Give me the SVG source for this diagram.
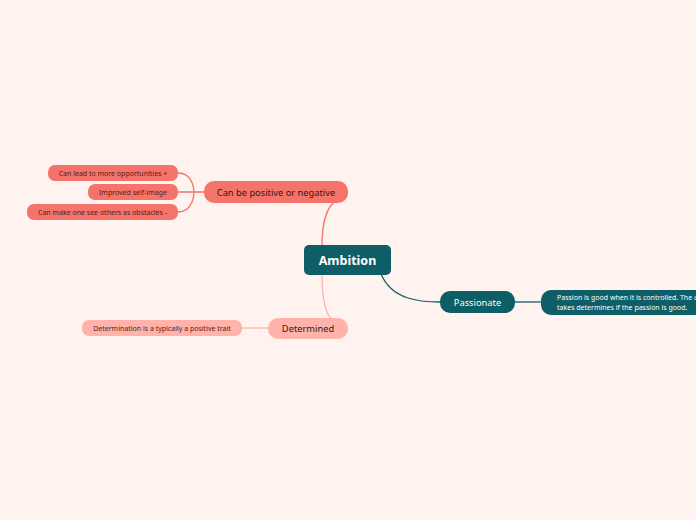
<svg xmlns="http://www.w3.org/2000/svg" width="696" height="520" viewBox="0 0 696 520">
<style>
text{font-family:"Noto Sans","Open Sans","DejaVu Sans",sans-serif;text-anchor:middle;dominant-baseline:central}
.s{fill:#f4736a}.p{fill:#ffb3ab}.t{fill:#0e5e67}
.ds{font-size:7px;fill:#5a1c18}.dm{font-size:9.3px;fill:#3a1512}.w{fill:#fff}
.c{fill:none;stroke-width:1.3}
</style>
<rect width="696" height="520" fill="#fff3f0"/>
<g id="connectors">
<path class="c" stroke="#f4736a" d="M322,246 C322,220 328,204 338,200"/>
<path class="c" stroke="#ffb3ab" d="M322,274 C322,300 326,314 332,320"/>
<path class="c" stroke="#0e5e67" d="M381,274 C392,300 420,302 440,302"/>
<path class="c" stroke="#0e5e67" d="M515,302 H541"/>
<path class="c" stroke="#f4736a" d="M204,192 H178 M178,173 C194,173 194,192 194,192 C194,192 194,212 178,212"/>
<path class="c" stroke="#ffb3ab" d="M268,328 H241"/>
</g>
<g id="ambition"><rect class="t" x="304" y="245" width="87" height="30" rx="5"/><text x="347.5" y="260" class="w" font-size="12.5" font-weight="bold">Ambition</text></g>
<g id="positive"><rect class="s" x="204" y="181" width="144" height="22" rx="10"/><text x="276" y="192" class="dm">Can be positive or negative</text></g>
<g id="opp"><rect class="s" x="48" y="165" width="130" height="16" rx="7"/><text x="113" y="173" class="ds">Can lead to more opportunities +</text></g>
<g id="self"><rect class="s" x="88" y="184" width="90" height="16" rx="7"/><text x="133" y="192" class="ds">Improved self-image</text></g>
<g id="obst"><rect class="s" x="27" y="204" width="151" height="16" rx="7"/><text x="102.5" y="212" class="ds">Can make one see others as obstacles -</text></g>
<g id="determined"><rect class="p" x="268" y="318" width="80" height="21" rx="10"/><text x="308" y="328.5" class="dm">Determined</text></g>
<g id="det2"><rect class="p" x="82" y="320" width="160" height="16" rx="7"/><text x="162" y="328" class="ds">Determination is a typically a positive trait</text></g>
<g id="passionate"><rect class="t" x="440" y="291" width="75" height="22" rx="10"/><text x="477.5" y="302" class="w" font-size="9.3">Passionate</text></g>
<g id="passion"><rect class="t" x="541" y="290" width="170" height="25" rx="10"/><text x="557" y="297" class="w" font-size="7" style="text-anchor:start">Passion is good when it is controlled. The a</text><text x="557" y="307.5" class="w" font-size="7" style="text-anchor:start">takes determines if the passion is good.</text></g>
</svg>
